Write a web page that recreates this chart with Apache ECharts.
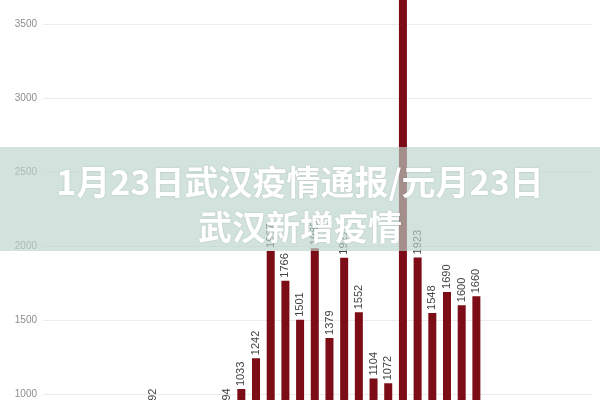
<!DOCTYPE html>
<html>
<head>
<meta charset="utf-8">
<style>
  html, body { margin: 0; padding: 0; background: #ffffff; overflow: hidden; width: 600px; height: 400px; }
  #chart { position: absolute; left: 0; top: -55px; width: 600px; height: 602px; }
</style>
<script src="https://cdn.jsdelivr.net/npm/echarts@6/dist/echarts.min.js"></script>
</head>
<body>
<div id="chart"></div>
<script>
// ---- data ----
const dates = ['1/27','1/28','1/29','1/30','1/31','2/1','2/2','2/3','2/4','2/5','2/6','2/7','2/8','2/9','2/10','2/11','2/12','2/13','2/14','2/15','2/16','2/17','2/18'];
const newCases = [892, 315, 356, 378, 576, 894, 1033, 1242, 1967, 1766, 1501, 1985, 1379, 1921, 1552, 1104, 1072, 3910, 1923, 1548, 1690, 1600, 1660];
const firstSlot = 7;           // category slot of the first date shown
const yMin = 0, yMax = 4000, yStep = 500;
const titleLines = ['1月23日武汉疫情通报/元月23日', '武汉新增疫情'];

const seriesData = newCases.map((v, j) => [firstSlot + j, v]);
const viewOffset = 55; // the chart canvas starts this many px above the visible window

const chart = echarts.init(document.getElementById('chart'), null, { renderer: 'canvas' });
chart.setOption({
  animation: false,
  backgroundColor: '#ffffff',
  grid: { left: 43, right: 8, top: 0, bottom: 0 },
  xAxis: {
    type: 'value',
    min: -0.5,
    max: 36.87,
    show: false
  },
  yAxis: {
    type: 'value',
    min: yMin,
    max: yMax,
    interval: yStep,
    axisLine: { show: false },
    axisTick: { show: false },
    axisLabel: { color: '#8c8c8c', fontSize: 10, margin: 6, fontFamily: 'Liberation Sans', formatter: v => String(v) },
    splitLine: { lineStyle: { color: '#ececec', width: 1 } }
  },
  series: [{
    type: 'bar',
    name: '新增',
    data: seriesData,
    barWidth: 8,
    itemStyle: { color: '#7c0c15' },
    label: {
      show: true,
      position: 'top',
      rotate: 90,
      align: 'left',
      verticalAlign: 'middle',
      distance: 3,
      color: '#444',
      fontSize: 11,
      fontFamily: 'Liberation Sans'
    }
  }],
  graphic: [
    {
      type: 'rect',
      z: 100,
      shape: { x: 0, y: 147 + viewOffset, width: 600, height: 104 },
      style: { fill: 'rgba(186,211,203,0.66)' }
    },
    {
      type: 'text',
      z: 101,
      x: 300,
      y: 205 + viewOffset,
      style: {
        text: titleLines.join('\n'),
        fill: '#ffffff',
        font: 'bold 34px "Noto Sans CJK SC"',
        textAlign: 'center',
        textVerticalAlign: 'middle',
        lineHeight: 45,
        textShadowColor: 'rgba(0,0,0,0.15)',
        textShadowBlur: 2
      }
    }
  ]
});
</script>
</body>
</html>
